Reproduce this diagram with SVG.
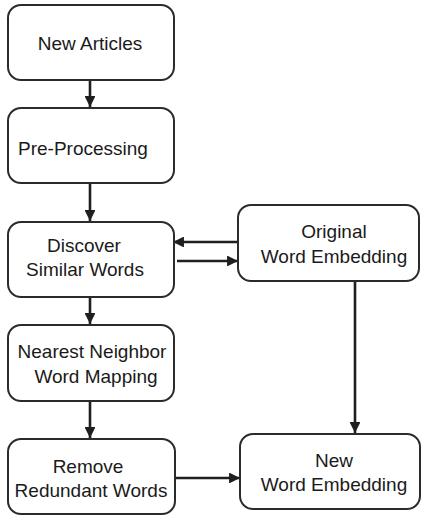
<svg xmlns="http://www.w3.org/2000/svg" width="427" height="520" viewBox="0 0 427 520">
<style>
.box{fill:#fff;stroke:#2b2b2b;stroke-width:2}
.t{font-family:"Liberation Sans",Arial,sans-serif;font-size:19px;fill:#1a1a1a;text-anchor:middle}
.c{stroke:#1f1f1f;stroke-width:2.6;fill:none}
</style>
<defs>
<marker id="ah" viewBox="0 0 10 10" refX="10" refY="5" markerWidth="4.2" markerHeight="4.2" markerUnits="strokeWidth" orient="auto">
<path d="M0,0 L10,5 L0,10 z" fill="#1f1f1f"/>
</marker>
</defs>
<rect width="427" height="520" fill="#fff"/>
<g id="connectors">
<line class="c" x1="90" y1="80" x2="90" y2="107" marker-end="url(#ah)"/>
<line class="c" x1="90" y1="183" x2="90" y2="221" marker-end="url(#ah)"/>
<line class="c" x1="238" y1="242" x2="173" y2="242" marker-end="url(#ah)"/>
<line class="c" x1="177" y1="261" x2="238" y2="261" marker-end="url(#ah)"/>
<line class="c" x1="90" y1="297" x2="90" y2="324" marker-end="url(#ah)"/>
<line class="c" x1="90" y1="401" x2="90" y2="438" marker-end="url(#ah)"/>
<line class="c" x1="355" y1="281" x2="355" y2="433" marker-end="url(#ah)"/>
<line class="c" x1="176" y1="478" x2="240" y2="478" marker-end="url(#ah)"/>
</g>
<g id="n1"><rect class="box" x="8" y="5" width="166" height="75" rx="13"/><text class="t" x="90" y="50">New Articles</text></g>
<g id="n2"><rect class="box" x="8" y="108" width="166" height="75" rx="13"/><text class="t" x="83" y="155">Pre-Processing</text></g>
<g id="n3"><rect class="box" x="8" y="222" width="166" height="75" rx="13"/><text class="t" x="84" y="252">Discover</text><text class="t" x="85" y="276">Similar Words</text></g>
<g id="n4"><rect class="box" x="238" y="205" width="181" height="76" rx="13"/><text class="t" x="334" y="238">Original</text><text class="t" x="334" y="263">Word Embedding</text></g>
<g id="n5"><rect class="box" x="8" y="325" width="166" height="76" rx="13"/><text class="t" x="92" y="358">Nearest Neighbor</text><text class="t" x="96" y="383">Word Mapping</text></g>
<g id="n6"><rect class="box" x="8" y="439" width="167" height="75" rx="13"/><text class="t" x="88" y="473">Remove</text><text class="t" x="91" y="497">Redundant Words</text></g>
<g id="n7"><rect class="box" x="240" y="434" width="180" height="75" rx="13"/><text class="t" x="334" y="467">New</text><text class="t" x="334" y="491">Word Embedding</text></g>
</svg>
